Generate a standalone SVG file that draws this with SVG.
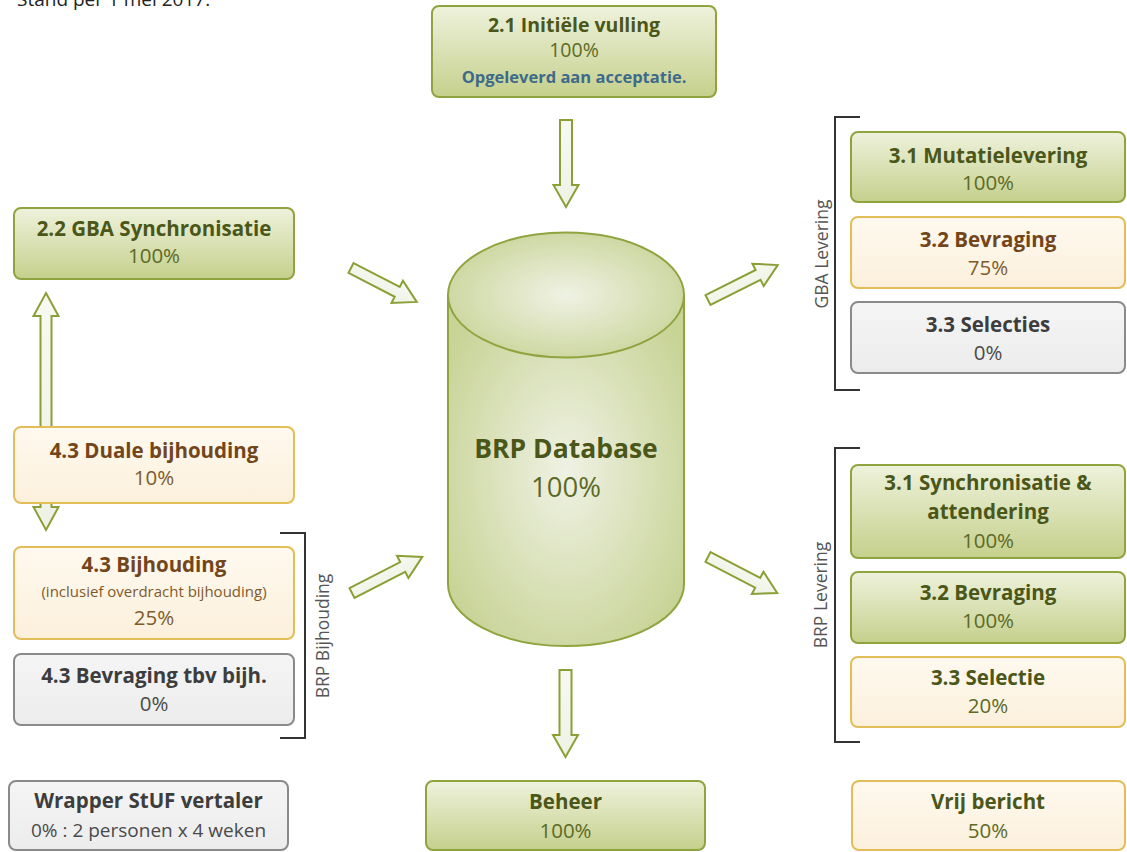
<svg xmlns="http://www.w3.org/2000/svg" width="1127" height="852" viewBox="0 0 1127 852">
<defs>
<linearGradient id="gGreen" x1="0" y1="0" x2="0" y2="1">
<stop offset="0" stop-color="#eef2dc"/>
<stop offset="1" stop-color="#c5d08c"/>
</linearGradient>
<linearGradient id="gOrange" x1="0" y1="0" x2="0" y2="1">
<stop offset="0" stop-color="#fef9ef"/>
<stop offset="1" stop-color="#fcf0dc"/>
</linearGradient>
<linearGradient id="gGray" x1="0" y1="0" x2="0" y2="1">
<stop offset="0" stop-color="#f5f5f5"/>
<stop offset="1" stop-color="#ececec"/>
</linearGradient>
<radialGradient id="gCyl" cx="0.5" cy="0.5" r="0.6">
<stop offset="0" stop-color="#eff2e4"/>
<stop offset="1" stop-color="#c8d396"/>
</radialGradient>
<linearGradient id="gArrow" x1="0" y1="0" x2="0" y2="1">
<stop offset="0" stop-color="#f8faf2"/>
<stop offset="1" stop-color="#eef1e4"/>
</linearGradient>
</defs>
<style>
text{font-family:"Open Sans","Liberation Sans",sans-serif;text-anchor:middle}
.green{fill:url(#gGreen);stroke:#8fa43f;stroke-width:2}
.orange{fill:url(#gOrange);stroke:#e2bd58;stroke-width:2}
.gray{fill:url(#gGray);stroke:#8a8a8a;stroke-width:2}
.t{font-size:20.5px;font-weight:bold}
.p{font-size:20.5px}
.tg{fill:#4b5619}.pg{fill:#5d6a26}
.tb{fill:#72461a}.pb{fill:#7e5b2d}
.tk{fill:#3d3d3d}.pk{fill:#4a4a4a}
.arr{fill:url(#gArrow);stroke:#8aa036;stroke-width:2;stroke-linejoin:miter}
.br{fill:none;stroke:#333;stroke-width:2}
.lbl{font-size:17.5px;fill:#555}
</style>
<rect width="1127" height="852" fill="#ffffff"/>
<text x="17" y="6" style="font-size:19px;fill:#222;text-anchor:start">Stand per 1 mei 2017.</text>

<g id="connectors">
<path class="arr" d="M560,120 H572 V185 H578.5 L566,207 L553.5,185 H560 Z"/>
<path class="arr" d="M559.5,670 H571.5 V735 H578 L565.5,757 L553,735 H559.5 Z"/>
<path class="arr" d="M46,293 L58.5,316 H51.5 V507 H58.5 L46,530 L33.5,507 H40.5 V316 H33.5 Z"/>
<path class="arr" transform="translate(351,268) rotate(27.3)" d="M0,-5.5 H52 V-12.5 L74,0 L52,12.5 V5.5 H0 Z"/>
<path class="arr" transform="translate(352,593) rotate(-27.2)" d="M0,-5.5 H57 V-12.5 L79,0 L57,12.5 V5.5 H0 Z"/>
<path class="arr" transform="translate(708,300) rotate(-26.6)" d="M0,-5.5 H56 V-12.5 L78,0 L56,12.5 V5.5 H0 Z"/>
<path class="arr" transform="translate(708,557) rotate(27.5)" d="M0,-5.5 H56 V-12.5 L78,0 L56,12.5 V5.5 H0 Z"/>
<path class="br" d="M860,117 H835 V390 H860"/>
<path class="br" d="M860,448 H835 V742 H860"/>
<path class="br" d="M280,533 H305 V738 H280"/>
<text class="lbl" transform="translate(828,254) rotate(-90)">GBA Levering</text>
<text class="lbl" transform="translate(827,595) rotate(-90)">BRP Levering</text>
<text class="lbl" transform="translate(329,636) rotate(-90)">BRP Bijhouding</text>
</g>

<g id="db">
<path d="M448,295 V584 A118,62 0 0 0 684,584 V295 Z" fill="url(#gCyl)" stroke="#8fa43f" stroke-width="2"/>
<ellipse cx="566" cy="295" rx="118" ry="62.5" fill="url(#gCyl)" stroke="#8fa43f" stroke-width="2"/>
<text x="566" y="458" class="tg" style="font-size:26.5px;font-weight:bold">BRP Database</text>
<text x="566" y="497" class="pg" style="font-size:27.5px">100%</text>
</g>

<g id="n21">
<rect x="432" y="6" width="284" height="91" rx="7" class="green"/>
<text x="574" y="32" class="tg" style="font-size:19.5px;font-weight:bold">2.1 Initiële vulling</text>
<text x="574" y="57" class="pg" style="font-size:19.5px">100%</text>
<text x="574" y="83" style="font-size:16.5px;font-weight:bold;fill:#3e6a8a">Opgeleverd aan acceptatie.</text>
</g>

<g id="n22">
<rect x="14" y="208" width="280" height="71" rx="7" class="green"/>
<text x="154" y="236" class="t tg">2.2 GBA Synchronisatie</text>
<text x="154" y="263" class="p pg">100%</text>
</g>

<g id="n43duaal">
<rect x="14" y="427" width="280" height="76" rx="7" class="orange"/>
<text x="154" y="458" class="t tb">4.3 Duale bijhouding</text>
<text x="154" y="485" class="p pb">10%</text>
</g>

<g id="n43bij">
<rect x="14" y="547" width="280" height="92" rx="7" class="orange"/>
<text x="154" y="572" class="t tb">4.3 Bijhouding</text>
<text x="154" y="597" class="pb" style="font-size:15px">(inclusief overdracht bijhouding)</text>
<text x="154" y="625" class="p pb">25%</text>
</g>

<g id="n43bev">
<rect x="14" y="654" width="280" height="71" rx="7" class="gray"/>
<text x="154" y="683" class="t tk">4.3 Bevraging tbv bijh.</text>
<text x="154" y="711" class="p pk">0%</text>
</g>

<g id="wrapper">
<rect x="9" y="781" width="279" height="69" rx="7" class="gray"/>
<text x="148.5" y="808" class="t tk">Wrapper StUF vertaler</text>
<text x="148.5" y="837" class="pk" style="font-size:19px">0% : 2 personen x 4 weken</text>
</g>

<g id="beheer">
<rect x="426" y="781" width="279" height="69" rx="7" class="green"/>
<text x="565.5" y="809" class="t tg">Beheer</text>
<text x="565.5" y="838" class="p pg">100%</text>
</g>

<g id="vrij">
<rect x="852" y="781" width="273" height="69" rx="7" class="orange"/>
<text x="988" y="809" class="t tg">Vrij bericht</text>
<text x="988" y="838" class="p pg">50%</text>
</g>

<g id="n31mut">
<rect x="851" y="132" width="274" height="70" rx="7" class="green"/>
<text x="988" y="163" class="t tg">3.1 Mutatielevering</text>
<text x="988" y="190" class="p pg">100%</text>
</g>

<g id="n32gba">
<rect x="851" y="217" width="274" height="71" rx="7" class="orange"/>
<text x="988" y="247" class="t tb">3.2 Bevraging</text>
<text x="988" y="275" class="p pb">75%</text>
</g>

<g id="n33gba">
<rect x="851" y="302" width="274" height="71" rx="7" class="gray"/>
<text x="988" y="332" class="t tk">3.3 Selecties</text>
<text x="988" y="360" class="p pk">0%</text>
</g>

<g id="n31sync">
<rect x="851" y="465" width="274" height="93" rx="7" class="green"/>
<text x="988" y="490" class="t tg">3.1 Synchronisatie &amp;</text>
<text x="988" y="519" class="t tg">attendering</text>
<text x="988" y="548" class="p pg">100%</text>
</g>

<g id="n32brp">
<rect x="851" y="572" width="274" height="71" rx="7" class="green"/>
<text x="988" y="600" class="t tg">3.2 Bevraging</text>
<text x="988" y="628" class="p pg">100%</text>
</g>

<g id="n33brp">
<rect x="851" y="657" width="274" height="70" rx="7" class="orange"/>
<text x="988" y="685" class="t tg">3.3 Selectie</text>
<text x="988" y="713" class="p pg">20%</text>
</g>
</svg>
